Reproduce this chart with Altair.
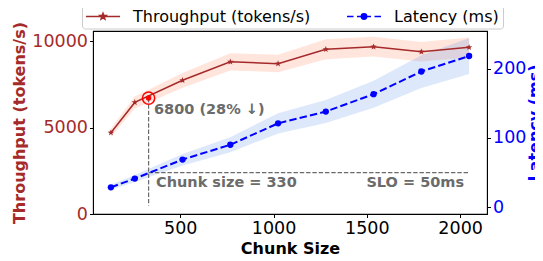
import math
import altair as alt
import pandas as pd

# ---------------- data ----------------
chunk = [128, 256, 512, 768, 1024, 1280, 1536, 1792, 2048]
throughput = [4700, 6450, 7730, 8800, 8690, 9520, 9670, 9380, 9635]
throughput_lo = [4450, 6100, 7300, 8300, 8200, 8950, 9100, 8820, 9050]
throughput_hi = [4950, 6800, 8150, 9300, 9200, 10100, 10250, 9950, 10200]
latency = [28.9, 41.5, 68.9, 90.2, 121, 138, 163, 195.7, 218]
latency_lo = [25.5, 36.5, 60.5, 79.5, 106.5, 121.5, 143.5, 172, 192]
latency_hi = [32.5, 46.5, 77, 101, 135.5, 154.5, 182.5, 219, 244]
series = ["Throughput (tokens/s)", "Latency (ms)"]

highlight_chunk = 330
highlight_throughput = 6700
vline_bottom = 480
slo_ms = 50
slo_end = 2048
label_highlight = "6800 (28% ↓)"
label_chunk = "Chunk size = 330"
label_slo = "SLO = 50ms"

x_ticks = [500, 1000, 1500, 2000]
tp_ticks = [0, 5000, 10000]
lat_ticks = [0, 100, 200]

# ---------------- styles ----------------
BROWN = "#A52A2A"
BLUE = "#0000FF"
GRAY = "#6b6b6b"
FONT = "DejaVu Sans"
W, H = 394, 183

df = pd.DataFrame({
    "chunk": chunk, "tp": throughput, "tp_lo": throughput_lo, "tp_hi": throughput_hi,
    "lat": latency, "lat_lo": latency_lo, "lat_hi": latency_hi,
})
hl = pd.DataFrame({"chunk": [highlight_chunk], "tp": [highlight_throughput],
                   "tp_bottom": [vline_bottom], "chunk_end": [slo_end], "slo": [slo_ms]})
txt_hl = pd.DataFrame({"chunk": [359], "tp": [5800], "t": [label_highlight]})
txt_chunk = pd.DataFrame({"chunk": [370], "lat": [30], "t": [label_chunk]})
txt_slo = pd.DataFrame({"chunk": [2021], "lat": [30], "t": [label_slo]})
leg = pd.DataFrame({"chunk": [chunk[0], chunk[0]], "series": series})


def star_path(cx, r_out, r_in):
    pts = []
    for i in range(10):
        ang = math.radians(-90 + 36 * i)
        r = r_out if i % 2 == 0 else r_in
        pts.append((cx + r * math.cos(ang), r * math.sin(ang)))
    return "M" + "L".join(f"{x:.3f},{y:.3f}" for x, y in pts) + "Z"


STAR = star_path(0, 1.0, 0.42)

xs = alt.Scale(domain=[32, 2144], nice=False, zero=False)
ys_tp = alt.Scale(domain=[0, 10580], nice=False, zero=False)
ys_lat = alt.Scale(domain=[-9.5, 254], nice=False, zero=False)

x_axis = alt.Axis(orient="bottom", values=x_ticks, format="d", title="Chunk Size",
                  labelFontSize=17.5, titleFontSize=16, titleFontWeight="bold",
                  labelColor="black", titleColor="black", tickSize=3.5, tickColor="black",
                  domainColor="black", grid=False, labelPadding=2, titlePadding=3,
                  labelFlush=False)
X = alt.X("chunk:Q", scale=xs, axis=x_axis)

left_axis = alt.Axis(orient="left", values=tp_ticks, format="d", title=series[0],
                     titleColor=BROWN, titleFontSize=16, titleFontWeight="bold",
                     labelColor=BROWN, labelFontSize=17.5, tickSize=3.5, tickColor="black",
                     domainColor="black", grid=False, labelPadding=2, titlePadding=4,
                     labelFlush=False)
right_axis = alt.Axis(orient="right", values=lat_ticks, format="d", title=series[1],
                      titleColor=BLUE, titleFontSize=16, titleFontWeight="bold", titleAngle=270,
                      titleBaseline="top", titleAlign="center", titleX=39, titleY=H / 2,
                      labelColor=BLUE, labelFontSize=17.5, tickSize=3.5, tickColor="black",
                      domainColor="black", grid=False, labelPadding=2, titlePadding=4,
                      labelFlush=False)

base = alt.Chart(df)

tp_band = base.mark_area(color="#FF7F50", opacity=0.2).encode(
    x=X, y=alt.Y("tp_lo:Q", scale=ys_tp, axis=None), y2="tp_hi:Q")
lat_band = base.mark_area(color="#6495ED", opacity=0.22).encode(
    x=X, y=alt.Y("lat_lo:Q", scale=ys_lat, axis=None), y2="lat_hi:Q")

slo_rule = alt.Chart(hl).mark_rule(color=GRAY, strokeWidth=1.2, strokeDash=[4.4, 1.9]).encode(
    x=X, x2="chunk_end:Q", y=alt.Y("slo:Q", scale=ys_lat, axis=None))
v_rule = alt.Chart(hl).mark_rule(color=GRAY, strokeWidth=1.2, strokeDash=[4.4, 1.9]).encode(
    x=X, y=alt.Y("tp:Q", scale=ys_tp, axis=None), y2="tp_bottom:Q")

lat_line = base.mark_line(color=BLUE, strokeWidth=2, strokeDash=[7.4, 3.2]).encode(
    x=X, y=alt.Y("lat:Q", scale=ys_lat, axis=right_axis))
lat_pts = base.mark_point(shape="circle", filled=True, size=40, color=BLUE, opacity=1).encode(
    x=X, y=alt.Y("lat:Q", scale=ys_lat, axis=None))

tp_line = base.mark_line(color=BROWN, strokeWidth=1.5).encode(
    x=X, y=alt.Y("tp:Q", scale=ys_tp, axis=left_axis))
tp_pts = base.mark_point(shape=STAR, filled=True, size=45, color=BROWN, opacity=1).encode(
    x=X, y=alt.Y("tp:Q", scale=ys_tp, axis=None))

ring = alt.Chart(hl).mark_point(shape="circle", filled=False, size=150, strokeWidth=1.5,
                                color="red", opacity=1).encode(
    x=X, y=alt.Y("tp:Q", scale=ys_tp, axis=None))
dot = alt.Chart(hl).mark_point(shape="circle", filled=True, size=30, color="red", opacity=1).encode(
    x=X, y=alt.Y("tp:Q", scale=ys_tp, axis=None))

text_style = dict(font=FONT, fontSize=14.5, fontWeight="bold", color=GRAY, baseline="alphabetic")
t1 = alt.Chart(txt_hl).mark_text(align="left", **text_style).encode(
    x=X, y=alt.Y("tp:Q", scale=ys_tp, axis=None), text="t:N")
t2 = alt.Chart(txt_chunk).mark_text(align="left", **text_style).encode(
    x=X, y=alt.Y("lat:Q", scale=ys_lat, axis=None), text="t:N")
t3 = alt.Chart(txt_slo).mark_text(align="right", **text_style).encode(
    x=X, y=alt.Y("lat:Q", scale=ys_lat, axis=None), text="t:N")

# ---------------- legend symbols (line + marker as svg paths) ----------------
x0, x1 = -1.1, 2.3
cx = 0.6
tp_symbol = f"M{x0},0L{x1},0" + star_path(cx, 0.3, 0.13)
r = 0.26
lat_symbol = (f"M{x0},0L-0.45,0M-0.1,0L1.3,0M1.65,0L{x1},0"
              f"M{cx + r:.2f},0A{r},{r} 0 1,1 {cx - r:.2f},0A{r},{r} 0 1,1 {cx + r:.2f},0Z")

legend = alt.Legend(orient="none", legendX=-11, legendY=-29.5, direction="horizontal",
                    title=None, labelFontSize=16, labelColor="black", labelFont=FONT,
                    symbolSize=400, symbolStrokeWidth=1.7, symbolOpacity=1, labelOffset=25,
                    columnPadding=32, padding=4, fillColor="white", strokeColor="#cccccc",
                    cornerRadius=3, labelLimit=400)
leg_layer = alt.Chart(leg).mark_point(filled=True, opacity=0, size=10).encode(
    x=X,
    color=alt.Color("series:N", scale=alt.Scale(domain=series, range=[BROWN, BLUE]), legend=legend),
    stroke=alt.Stroke("series:N", scale=alt.Scale(domain=series, range=[BROWN, BLUE]), legend=legend),
    shape=alt.Shape("series:N", scale=alt.Scale(domain=series, range=[tp_symbol, lat_symbol]),
                    legend=legend),
)

chart = alt.layer(
    tp_band, lat_band, slo_rule, v_rule, lat_line, lat_pts, tp_line, tp_pts, ring, dot,
    t1, t2, t3, leg_layer,
).resolve_scale(y="independent").properties(
    width=W, height=H,
    autosize=alt.AutoSizeParams(type="none"),
    padding={"left": 85, "top": 23, "right": 48, "bottom": 45},
).configure(font=FONT).configure_view(stroke="black", strokeWidth=1.1)

chart.save("out.html", embed_options={"renderer": "svg", "actions": False})
